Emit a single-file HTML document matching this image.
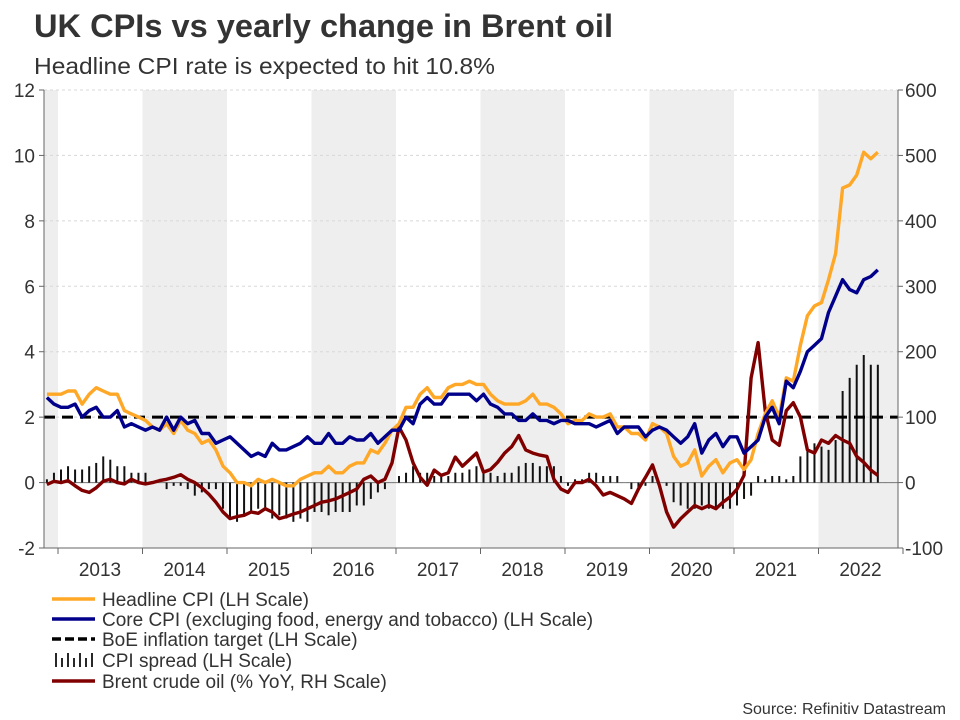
<!DOCTYPE html>
<html><head><meta charset="utf-8">
<style>
body{margin:0;background:#fff;width:960px;height:720px;overflow:hidden;font-family:"Liberation Sans",Arial,sans-serif;color:#333}
svg{position:absolute;left:0;top:0}
</style></head>
<body>
<svg id="chart" width="960" height="720" xmlns="http://www.w3.org/2000/svg">
<text x="34" y="37" font-size="32" font-weight="bold" fill="#333" textLength="579" lengthAdjust="spacingAndGlyphs">UK CPIs vs yearly change in Brent oil</text>
<text x="34" y="74" font-size="23" fill="#333" textLength="461" lengthAdjust="spacingAndGlyphs">Headline CPI rate is expected to hit 10.8%</text>
<g id="bands"></g>
<g id="grid"></g>
<g id="bars"></g>
<g id="lines"></g>
<g id="axes"></g>
<g id="legend"></g>
<text x="946" y="714" font-size="16" fill="#333" text-anchor="end">Source: Refinitiv Datastream</text>
</svg>
<script>
const years = [2013,2014,2015,2016,2017,2018,2019,2020,2021,2022];
const leftTicks = [-2,0,2,4,6,8,10,12];
const rightTicks = [-100,0,100,200,300,400,500,600];
const boeTarget = 2;
// monthly Nov 2012 .. Sep 2022
const headline = [2.7,2.7,
2.7,2.8,2.8,2.4,2.7,2.9,2.8,2.7,2.7,2.2,2.1,2.0,
1.9,1.7,1.6,1.8,1.5,1.9,1.6,1.5,1.2,1.3,1.0,0.5,
0.3,0.0,0.0,-0.1,0.1,0.0,0.1,0.0,-0.1,-0.1,0.1,0.2,
0.3,0.3,0.5,0.3,0.3,0.5,0.6,0.6,1.0,0.9,1.2,1.6,
1.8,2.3,2.3,2.7,2.9,2.6,2.6,2.9,3.0,3.0,3.1,3.0,
3.0,2.7,2.5,2.4,2.4,2.4,2.5,2.7,2.4,2.4,2.3,2.1,
1.8,1.9,1.9,2.1,2.0,2.0,2.1,1.7,1.7,1.5,1.5,1.3,
1.8,1.7,1.5,0.8,0.5,0.6,1.0,0.2,0.5,0.7,0.3,0.6,
0.7,0.4,0.7,1.5,2.1,2.5,2.0,3.2,3.1,4.2,5.1,5.4,
5.5,6.2,7.0,9.0,9.1,9.4,10.1,9.9,10.1];
const core = [2.6,2.4,
2.3,2.3,2.4,2.0,2.2,2.3,2.0,2.0,2.2,1.7,1.8,1.7,
1.6,1.7,1.6,2.0,1.6,2.0,1.8,1.9,1.5,1.5,1.2,1.3,
1.4,1.2,1.0,0.8,0.9,0.8,1.2,1.0,1.0,1.1,1.2,1.4,
1.2,1.2,1.5,1.2,1.2,1.4,1.3,1.3,1.5,1.2,1.4,1.6,
1.6,2.0,1.8,2.4,2.6,2.4,2.4,2.7,2.7,2.7,2.7,2.5,
2.7,2.4,2.3,2.1,2.1,1.9,1.9,2.1,1.9,1.9,1.8,1.9,
1.9,1.8,1.8,1.8,1.7,1.8,1.9,1.5,1.7,1.7,1.7,1.4,
1.6,1.7,1.6,1.4,1.2,1.4,1.8,0.9,1.3,1.5,1.1,1.4,
1.4,0.9,1.1,1.3,2.0,2.3,1.8,3.1,2.9,3.4,4.0,4.2,
4.4,5.2,5.7,6.2,5.9,5.8,6.2,6.3,6.5];
const brent = [-3,2,
0,3,-5,-12,-15,-8,2,5,0,-2,5,0,
-2,0,3,5,8,12,5,0,-8,-18,-30,-45,
-55,-52,-50,-45,-47,-40,-45,-55,-52,-48,-45,-40,
-35,-30,-28,-25,-20,-15,-10,5,10,0,5,30,
85,65,30,8,-4,19,11,15,39,25,35,45,
16,20,31,45,55,72,50,45,42,40,5,-10,
-15,0,0,5,-5,-19,-15,-20,-25,-32,-10,8,
27,-5,-45,-68,-55,-45,-35,-40,-35,-40,-30,-22,
-10,11,160,214,110,65,57,110,122,100,50,45,
65,60,72,65,60,40,31,19,11];
const spread = headline.map((h,i)=>h-core[i]);

const NS="http://www.w3.org/2000/svg";
const X0=44, X1=898, YT=90, YB=548;
const yL = v => YB - (v+2)*(YB-YT)/14;
const yR = v => YB - (v+100)*(YB-YT)/700;
const xYear = y => 58 + (y-2013)*84.5;
const xMonth = i => xYear(2012 + 10/12) + i*84.5/12 + 3;
function mk(tag, attrs, parent){const e=document.createElementNS(NS,tag);for(const k in attrs)e.setAttribute(k,attrs[k]);parent.appendChild(e);return e;}
const bands=document.getElementById('bands'), grid=document.getElementById('grid'), bars=document.getElementById('bars'), lines=document.getElementById('lines'), axes=document.getElementById('axes'), legend=document.getElementById('legend');

[2012,2014,2016,2018,2020,2022].forEach(y=>{
  const a=Math.max(X0,xYear(y)), b=Math.min(X1,xYear(y+1));
  const r=mk('rect',{x:a,y:YT,width:b-a,height:YB-YT,fill:'#eeeeee'},bands);
  
  
});
leftTicks.forEach(v=>{
  if(v===-2)return;
  const l=mk('line',{x1:X0,x2:X1,y1:yL(v),y2:yL(v),stroke:'#d8d8d8','stroke-dasharray':'3,3','stroke-width':1},grid);
  
  
});
mk('line',{x1:X0,x2:X1,y1:yL(0),y2:yL(0),stroke:'#777','stroke-width':1},grid);

spread.forEach((s,i)=>{
  const x=xMonth(i), y0=yL(0), y1=yL(s);
  const b=mk('line',{x1:x,x2:x,y1:y0,y2:y1,stroke:'#111','stroke-width':2},bars);
  
  
});
const boe=mk('line',{x1:X0,x2:X1,y1:yL(boeTarget),y2:yL(boeTarget),stroke:'#000','stroke-width':3,'stroke-dasharray':'11,7'},lines);


function series(arr, yf, color, name){
  const d=arr.map((v,i)=>(i?'L':'M')+xMonth(i).toFixed(1)+','+yf(v).toFixed(1)).join('');
  const p=mk('path',{d:d,fill:'none',stroke:color,'stroke-width':3.4,'stroke-linejoin':'round'},lines);
  
  
}
series(brent,yR,'#800000','brent-line');
series(headline,yL,'#ffa726','headline-cpi-line');
series(core,yL,'#00008b','core-cpi-line');

mk('line',{x1:X0,x2:X0,y1:YT,y2:YB,stroke:'#666'},axes);
mk('line',{x1:X1,x2:X1,y1:YT,y2:YB,stroke:'#666'},axes);
mk('line',{x1:X0,x2:X1,y1:YB,y2:YB,stroke:'#666'},axes);
leftTicks.forEach(v=>{
  mk('line',{x1:X0-5,x2:X0,y1:yL(v),y2:yL(v),stroke:'#666'},axes);
  const t=mk('text',{x:X0-9,y:yL(v)+7,'font-size':19,'text-anchor':'end',fill:'#333'},axes);
  t.textContent=v;
  
  
});
rightTicks.forEach(v=>{
  mk('line',{x1:X1,x2:X1+5,y1:yR(v),y2:yR(v),stroke:'#666'},axes);
  const t=mk('text',{x:X1+7,y:yR(v)+7,'font-size':19,fill:'#333'},axes);
  t.textContent=v;
  
  
});
years.forEach(y=>{
  mk('line',{x1:xYear(y),x2:xYear(y),y1:YB,y2:YB+6,stroke:'#666'},axes);
  const t=mk('text',{x:xYear(y)+42,y:YB+28,'font-size':19,'text-anchor':'middle',fill:'#333'},axes);
  t.textContent=y;
  
  
});
mk('line',{x1:xYear(2023),x2:xYear(2023),y1:YB,y2:YB+6,stroke:'#666'},axes);

const legendItems=[
 ['Headline CPI (LH Scale)','line','#ffa726'],
 ['Core CPI (excluging food, energy and tobacco) (LH Scale)','line','#00008b'],
 ['BoE inflation target (LH Scale)','dash','#000'],
 ['CPI spread (LH Scale)','bars','#111'],
 ['Brent crude oil (% YoY, RH Scale)','line','#800000']];
const legendY=[599,619,639,660,681];
legendItems.forEach((it,i)=>{
  const g=mk('g',{},legend);
  
  
  const y=legendY[i];
  if(it[1]==='line') mk('line',{x1:52,x2:95,y1:y,y2:y,stroke:it[2],'stroke-width':3.5},g);
  else if(it[1]==='dash') mk('line',{x1:52,x2:95,y1:y,y2:y,stroke:'#000','stroke-width':3.5,'stroke-dasharray':'9,4'},g);
  else { [56,62,68,74,80,86,92].forEach((bx,j)=>mk('line',{x1:bx,x2:bx,y1:y+7,y2:y-7+((j%2)?5:0),stroke:'#111','stroke-width':1.8},g)); }
  const t=mk('text',{x:102,y:y+7,'font-size':19,fill:'#333'},g);
  t.textContent=it[0];
});
</script>
</body></html>
